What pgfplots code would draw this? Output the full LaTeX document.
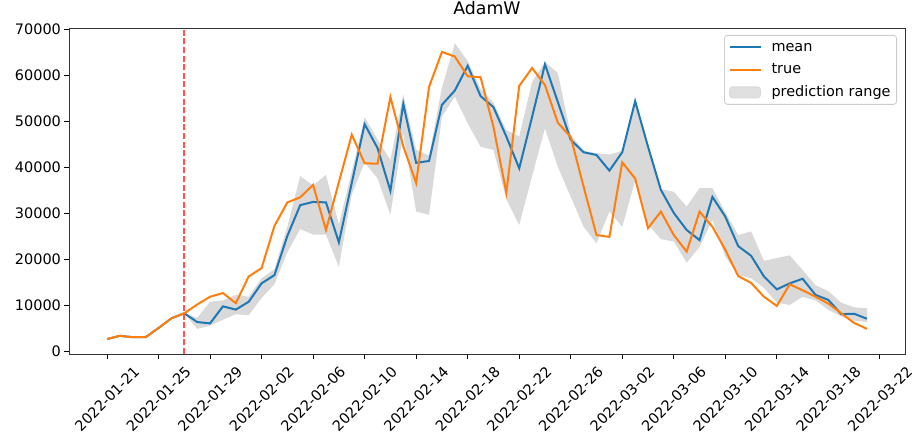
\documentclass[border=0pt]{standalone}
\usepackage{fontspec}
\setmainfont{DejaVu Sans}
\usepackage{pgfplots}
\pgfplotsset{compat=1.18}
\usepackage{pgfplotstable}
\usepgfplotslibrary{fillbetween}

\definecolor{mplblue}{HTML}{1F77B4}
\definecolor{mplorange}{HTML}{FF7F0E}
\definecolor{bandgray}{HTML}{D9D9D9}
\definecolor{vred}{HTML}{FF5252}
\definecolor{legframe}{HTML}{CCCCCC}

\pgfplotsset{
  lineleg/.style={legend image code/.code={\draw[##1] (0bp,0bp) -- (31bp,0bp);}},
  patchleg/.style={legend image code/.code={\draw[##1] (0bp,-5.5bp) rectangle (31bp,5.5bp);}},
}

\pgfplotstableread{
d true
0 2600
1 3300
2 3000
3 3000
4 5000
5 7100
6 8200
7 10100
8 11800
9 12600
10 10400
11 16200
12 18000
13 27200
14 32300
15 33400
16 36100
17 26300
18 36700
19 47000
20 40800
21 40700
22 55200
23 44500
24 36500
25 57400
26 65000
27 64000
28 59700
29 59500
30 48700
31 34400
32 57600
33 61500
34 57800
35 49600
36 46500
37 35700
38 25200
39 24800
40 41000
41 37500
42 26700
43 30300
44 25200
45 21600
46 30300
47 27000
48 22000
49 16300
50 14800
51 11800
52 9800
53 14500
54 13200
55 11800
56 10300
57 8200
58 6100
59 4800
}\truetab

\pgfplotstableread{
d mean
0 2600
1 3300
2 3000
3 3000
4 5000
5 7100
6 8200
7 6300
8 6000
9 9700
10 9000
11 10700
12 14700
13 16500
14 25000
15 31700
16 32400
17 32300
18 23600
19 36500
20 49300
21 44100
22 34800
23 53700
24 40900
25 41300
26 53500
27 56600
28 62000
29 55400
30 53000
31 46600
32 39700
33 50900
34 62300
35 54100
36 45900
37 43200
38 42600
39 39200
40 43200
41 54300
42 44400
43 35000
44 30000
45 26300
46 24100
47 33500
48 29200
49 22800
50 20700
51 16200
52 13400
53 14700
54 15700
55 12200
56 11100
57 8000
58 8100
59 7000
}\meantab

\pgfplotstableread{
d lo up
6 8200 8200
7 4800 7200
8 5500 10700
9 6800 11000
10 8000 12200
11 7800 11800
12 11500 15800
13 14500 17800
14 21500 27000
15 26500 38000
16 25300 36000
17 25300 38300
18 18300 27500
19 34000 39000
20 41000 50800
21 37500 46000
22 29600 41500
23 47300 55800
24 30300 43700
25 29600 42500
26 50900 57200
27 55300 66900
28 49500 63000
29 44400 57000
30 43700 54000
31 33000 48000
32 27400 46600
33 38000 58500
34 48400 62800
35 40000 60400
36 33500 47000
37 27000 43500
38 23400 43000
39 30300 42700
40 27000 43500
41 37000 54500
42 27500 45000
43 24300 35200
44 23800 34600
45 19200 31400
46 22600 35400
47 28500 35400
48 20500 30200
49 16500 25200
50 15800 26000
51 13700 19600
52 10500 20200
53 10000 20800
54 11800 17600
55 11000 14300
56 8900 13000
57 7500 10500
58 6600 9500
59 6300 9300
}\bandtab

\begin{document}
\begin{tikzpicture}
\begin{axis}[
  at={(69bp,89bp)}, anchor=south west,
  scale only axis, width=836bp, height=326bp,
  xmin=-2.95, xmax=61.95, ymin=-650, ymax=70200,
  xtick={0,4,...,60},
  xticklabels={2022-01-21,2022-01-25,2022-01-29,2022-02-02,2022-02-06,2022-02-10,2022-02-14,2022-02-18,2022-02-22,2022-02-26,2022-03-02,2022-03-06,2022-03-10,2022-03-14,2022-03-18,2022-03-22},
  ytick={0,10000,...,70000},
  scaled y ticks=false,
  /pgf/number format/assume math mode=true,
  /pgf/number format/fixed,
  /pgf/number format/set thousands separator={},
  tick pos=left,
  tick align=outside,
  major tick length=4.9bp,
  tick style={line width=0.8bp, color=black},
  axis line style={line width=0.8bp, color=black!80},
  font=\fontsize{14.5}{17}\selectfont,
  xticklabel style={yshift=-40bp, rotate=45, anchor=center, inner sep=0pt},
  yticklabel style={anchor=east, inner sep=0pt, xshift=-3bp},
  title={AdamW},
  title style={at={(0.5,1)}, anchor=base, yshift=8bp, font=\fontsize{17.4}{20}\selectfont},
  legend style={at={(1,1)}, anchor=north east, xshift=-8bp, yshift=-7bp,
    draw=legframe, line width=0.8bp, rounded corners=3bp, fill=white, fill opacity=0.8, text opacity=1,
    font=\fontsize{14.5}{17}\selectfont, row sep=4.5bp, inner xsep=4bp, inner ysep=3bp,
    nodes={inner sep=2bp, text height=11bp, text depth=3bp},
    /tikz/every odd column/.append style={column sep=8bp}},
  legend cell align=left,
]
\addplot[name path=up, draw=none, forget plot] table[x=d, y=up] {\bandtab};
\addplot[name path=lo, draw=none, forget plot] table[x=d, y=lo] {\bandtab};
\addplot[fill=bandgray, draw=none, forget plot] fill between[of=up and lo];
\addplot[mplblue, line width=2bp, forget plot] table[x=d, y=mean] {\meantab};
\addplot[mplorange, line width=2bp, forget plot] table[x=d, y=true] {\truetab};
\addplot[vred, line width=2.2bp, dash pattern=on 6bp off 2.6bp, forget plot] coordinates {(6,-650) (6,70200)};
\addlegendimage{lineleg, mplblue, line width=2bp}
\addlegendentry{mean}
\addlegendimage{lineleg, mplorange, line width=2bp}
\addlegendentry{true}
\addlegendimage{patchleg, fill=bandgray, draw=bandgray}
\addlegendentry{prediction range}
\end{axis}
\pgfresetboundingbox
\path[use as bounding box] (0,0) rectangle (914bp,443bp);
\end{tikzpicture}
\end{document}
